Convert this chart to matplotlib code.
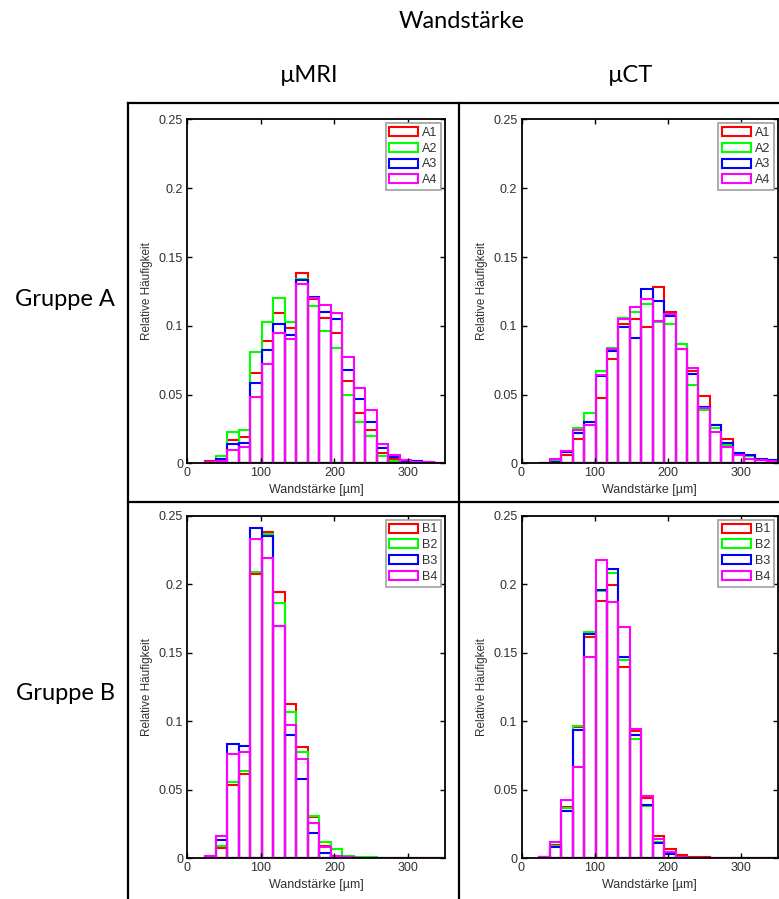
import matplotlib
matplotlib.use("Agg")
import matplotlib.pyplot as plt
from matplotlib.lines import Line2D
from matplotlib.patches import Patch

W, H = 779, 899

# Histogram bin centres of wall thickness [µm] (bin width 15.6 µm)
bin_width = 15.6
bin_centers = [31.2, 46.8, 62.4, 78.0, 93.6, 109.2, 124.8, 140.4, 156.0, 171.6,
               187.2, 202.8, 218.4, 234.0, 249.6, 265.2, 280.8, 296.4, 312.0,
               327.6, 343.2]

# Gruppe A, µMRI
mri_A1 = [0.002, 0.002, 0.017, 0.019, 0.066, 0.0892, 0.1095, 0.0986, 0.1386, 0.1195, 0.106,
          0.0945, 0.0595, 0.0366, 0.024, 0.0073, 0.003, 0.001, 0.0005, 0.0003, 0.0002]
mri_A2 = [0.001, 0.005, 0.023, 0.024, 0.081, 0.103, 0.120, 0.103, 0.134, 0.1146, 0.0962,
          0.0838, 0.0498, 0.0298, 0.0195, 0.005, 0.002, 0.001, 0.0005, 0.0003, 0.0002]
mri_A3 = [0.001, 0.003, 0.014, 0.015, 0.0585, 0.0825, 0.1013, 0.0933, 0.1335, 0.1207, 0.1103,
          0.1047, 0.0678, 0.0468, 0.030, 0.011, 0.0044, 0.002, 0.0015, 0.0007, 0.0004]
mri_A4 = [0.001, 0.002, 0.0098, 0.012, 0.048, 0.072, 0.0945, 0.0904, 0.1305, 0.120, 0.1151,
          0.1095, 0.0776, 0.0549, 0.039, 0.014, 0.0063, 0.0024, 0.001, 0.0007, 0.0003]

# Gruppe A, µCT
ct_A1 = [0.0005, 0.0017, 0.006, 0.018, 0.028, 0.0473, 0.076, 0.1015, 0.105, 0.099, 0.128,
         0.110, 0.0866, 0.067, 0.0493, 0.028, 0.0178, 0.0068, 0.005, 0.0025, 0.0017]
ct_A2 = [0.0003, 0.0015, 0.009, 0.026, 0.0366, 0.0668, 0.0839, 0.1059, 0.110, 0.1159, 0.1025,
         0.1015, 0.087, 0.057, 0.039, 0.026, 0.013, 0.0073, 0.0054, 0.0025, 0.0015]
ct_A3 = [0.0003, 0.0012, 0.008, 0.022, 0.0298, 0.0634, 0.0815, 0.099, 0.091, 0.127, 0.118,
         0.107, 0.083, 0.065, 0.0407, 0.028, 0.0146, 0.0078, 0.0059, 0.0032, 0.0022]
ct_A4 = [0.0005, 0.003, 0.0093, 0.024, 0.0278, 0.0644, 0.083, 0.105, 0.1134, 0.1195, 0.1035,
         0.1088, 0.083, 0.069, 0.0405, 0.0227, 0.0117, 0.006, 0.003, 0.0027, 0.0015]

# Gruppe B, µMRI
mri_B1 = [0.0012, 0.0073, 0.0538, 0.0617, 0.208, 0.2384, 0.1944, 0.113, 0.0811, 0.0303, 0.009,
          0.0015, 0.0008, 0.0004, 0.0003, 0.0002, 0.0001, 0.0001, 0.0001, 0.0, 0.0]
mri_B2 = [0.001, 0.009, 0.0557, 0.0634, 0.2094, 0.2372, 0.1865, 0.1065, 0.0775, 0.0307, 0.0121,
          0.0068, 0.002, 0.001, 0.0008, 0.0005, 0.0003, 0.0002, 0.0002, 0.0, 0.0]
mri_B3 = [0.001, 0.0133, 0.0835, 0.0823, 0.2413, 0.2353, 0.1695, 0.0903, 0.0581, 0.0182, 0.0041,
          0.001, 0.0006, 0.0003, 0.0002, 0.0001, 0.0001, 0.0001, 0.0001, 0.0, 0.0]
mri_B4 = [0.0017, 0.0162, 0.0763, 0.0775, 0.233, 0.219, 0.1696, 0.0976, 0.0726, 0.0259, 0.0085,
          0.0019, 0.0008, 0.0004, 0.0002, 0.0001, 0.0001, 0.0001, 0.0, 0.0, 0.0]

# Gruppe B, µCT
ct_B1 = [0.0008, 0.0097, 0.0375, 0.0956, 0.1619, 0.1876, 0.1993, 0.1395, 0.0927, 0.0443, 0.0165,
         0.0065, 0.0022, 0.001, 0.0006, 0.0004, 0.0002, 0.0001, 0.0, 0.0, 0.0]
ct_B2 = [0.0008, 0.009, 0.0368, 0.0966, 0.165, 0.195, 0.2083, 0.1451, 0.0872, 0.0385, 0.012,
         0.0035, 0.0012, 0.0005, 0.0003, 0.0001, 0.0, 0.0, 0.0, 0.0, 0.0]
ct_B3 = [0.001, 0.0082, 0.0344, 0.0937, 0.1638, 0.196, 0.211, 0.1468, 0.090, 0.0387, 0.0114,
         0.0031, 0.0012, 0.0005, 0.0003, 0.0001, 0.0, 0.0, 0.0, 0.0, 0.0]
ct_B4 = [0.0012, 0.0116, 0.0424, 0.0666, 0.1473, 0.2176, 0.1874, 0.169, 0.0944, 0.0453, 0.0138,
         0.0048, 0.0012, 0.0005, 0.0003, 0.0001, 0.0, 0.0, 0.0, 0.0, 0.0]

labels_A = ["A1", "A2", "A3", "A4"]
labels_B = ["B1", "B2", "B3", "B4"]
series_colors = ["#ff0000", "#00ff00", "#0000ff", "#ff00ff"]

y_ticks = [0, 0.05, 0.1, 0.15, 0.2, 0.25]
y_ticklabels = ["0", "0.05", "0.1", "0.15", "0.2", "0.25"]
x_ticks = [0, 100, 200, 300]
x_ticklabels = ["0", "100", "200", "300"]

plt.rcParams["font.family"] = ["Liberation Sans", "DejaVu Sans"]
text_col = "#303030"

fig = plt.figure(figsize=(W / 100, H / 100), dpi=100)
fig.patch.set_facecolor("white")


def px_axes(left, top, right, bottom):
    return fig.add_axes([left / W, 1 - bottom / H, (right - left) / W, (bottom - top) / H])


def draw_panel(ax, series, labels):
    for vals, col in zip(series, series_colors):
        ax.bar(bin_centers, vals, width=bin_width, fill=False, edgecolor=col,
               linewidth=1.5, zorder=1)
    ax.set_xlim(0, 350)
    ax.set_ylim(0, 0.25)
    ax.set_xticks(x_ticks)
    ax.set_xticklabels(x_ticklabels)
    ax.set_yticks(y_ticks)
    ax.set_yticklabels(y_ticklabels)
    ax.tick_params(direction="in", length=3.5, width=1.0, top=True, right=True,
                   labelsize=9, colors="black", labelcolor=text_col, pad=3)
    for sp in ax.spines.values():
        sp.set_linewidth(1.3)
        sp.set_color("black")
        sp.set_zorder(3)
    ax.set_xlabel("Wandstärke [µm]", fontsize=9, color=text_col, labelpad=3)
    ax.set_ylabel("Relative Häufigkeit", fontsize=8.5, color=text_col, labelpad=4)
    handles = [Patch(facecolor="none", edgecolor=c, linewidth=1.5) for c in series_colors]
    leg = ax.legend(handles, labels, loc="upper right", fontsize=9, frameon=True,
                    fancybox=False, edgecolor="#a0a0a0", framealpha=1,
                    handlelength=2.3, handleheight=0.75, labelspacing=0.3,
                    borderpad=0.3, handletextpad=0.3, borderaxespad=0.3)
    leg.get_frame().set_linewidth(1.2)
    for t in leg.get_texts():
        t.set_color(text_col)


ax_tl = px_axes(187.3, 119.5, 444.7, 463.3)
draw_panel(ax_tl, [mri_A1, mri_A2, mri_A3, mri_A4], labels_A)
ax_tr = px_axes(521.5, 119.5, 777.5, 463.3)
draw_panel(ax_tr, [ct_A1, ct_A2, ct_A3, ct_A4], labels_A)
ax_bl = px_axes(187.3, 516.0, 444.7, 858.3)
draw_panel(ax_bl, [mri_B1, mri_B2, mri_B3, mri_B4], labels_B)
ax_br = px_axes(521.5, 516.0, 777.5, 858.3)
draw_panel(ax_br, [ct_B1, ct_B2, ct_B3, ct_B4], labels_B)


def fig_line(x0, y0, x1, y1):
    fig.add_artist(Line2D([x0 / W, x1 / W], [1 - y0 / H, 1 - y1 / H],
                          transform=fig.transFigure, color="black", linewidth=1.6))


# table grid around the panels
fig_line(128, 103, 779, 103)
fig_line(128, 103, 128, 899)
fig_line(459, 103, 459, 899)
fig_line(128, 502, 779, 502)

head_font = ["Lato", "DejaVu Sans"]
head_size = 17
fig.text(462 / W, 1 - 22 / H, "Wandstärke", ha="center", va="center",
         fontsize=head_size, family=head_font, color="black")
fig.text(309 / W, 1 - 75 / H, "µMRI", ha="center", va="center",
         fontsize=head_size, family=head_font, color="black")
fig.text(631 / W, 1 - 75 / H, "µCT", ha="center", va="center",
         fontsize=head_size, family=head_font, color="black")
fig.text(65 / W, 1 - 300 / H, "Gruppe A", ha="center", va="center",
         fontsize=head_size, family=head_font, color="black")
fig.text(65 / W, 1 - 693 / H, "Gruppe B", ha="center", va="center",
         fontsize=head_size, family=head_font, color="black")

fig.savefig("out.png", dpi=100)
